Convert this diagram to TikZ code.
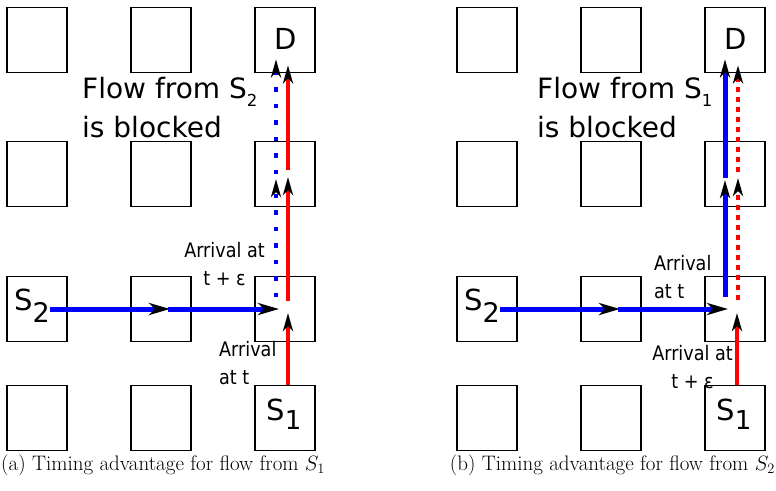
\documentclass[tikz,border=0pt]{standalone}
\usepackage{fontspec}
\usepackage{amsmath}
\newfontfamily\djv{DejaVu Sans}
\newfontfamily\djvc[FakeStretch=0.88]{DejaVu Sans}
\usetikzlibrary{arrows.meta}
\newcommand{\lowsub}[3]{\raisebox{-#1}{\fontsize{#2}{#2}\selectfont #3}}

\begin{document}
\begin{tikzpicture}[x=1pt, y=-1pt,
  cell/.style={draw, line width=1.6pt, minimum width=60pt, minimum height=65pt,
    inner sep=0pt},
  tag/.style={font=\djv\fontsize{29}{29}\selectfont, inner sep=0pt},
  note/.style={font=\djv\fontsize{28}{39}\selectfont, align=left, inner sep=0pt},
  arrtext/.style={font=\djvc\fontsize{20}{28}\selectfont, inner sep=0pt},
  subcap/.style={font=\fontsize{21}{24}\selectfont, inner sep=0pt},
  htip/.style={-{Stealth[color=black, length=21pt, width=12pt, inset=6pt]}},
  vtip/.style={-{Stealth[color=black, length=18pt, width=10pt, inset=5pt]}},
  hflow/.style={blue, line width=5pt, htip},
  bflow/.style={blue, line width=5pt, vtip},
  rflow/.style={red, line width=4.5pt, vtip},
  bdots/.style={bflow, line width=4.5pt, dash pattern=on 4.5pt off 12pt},
  rdots/.style={rflow, dash pattern=on 5pt off 5pt}]
\useasboundingbox (0,0) rectangle (776,490);

% grids of routers
\foreach \r/\y in {1/40,2/174,3/309,4/418}
  \foreach \c/\x in {1/37,2/161,3/285} {
    \node[cell] (a\r\c) at (\x,\y) {};
    \node[cell] (b\r\c) at (\x+450,\y) {};
  }

% (a) flow from S1 wins
\node[tag] (aD) at (286,39) {D};
\node[tag] (aS2) at (32,306) {S\lowsub{12pt}{27}{2}};
\node[tag] (aS1) at (284,414) {S\lowsub{9pt}{26}{1}};
\draw[hflow] ([xshift=13pt]a31.center) -- ([xshift=9pt]a32.center);
\draw[hflow] ([xshift=7pt]a32.center) -- ([xshift=-6pt]a33.center);
\draw[rflow] ([xshift=3pt]a43.north) -- ([xshift=3pt,yshift=-4pt]a33.center);
\draw[rflow] ([xshift=3pt,yshift=8pt]a33.center) -- ([xshift=3pt,yshift=-3pt]a23.center);
\draw[rflow] ([xshift=3pt,yshift=4pt]a23.center) -- ([xshift=3pt,yshift=8pt]a13.south);
\draw[bdots] ([xshift=-9pt,yshift=12pt]a33.center) -- ([xshift=-9pt,yshift=-5pt]a23.center);
\draw[bdots] ([xshift=-9pt]a23.center) -- ([xshift=-9pt,yshift=14pt]a13.south);
\node[note, anchor=base west] (ablk) at (82,137)
  {Flow from S\lowsub{8pt}{16.5}{2}\\is blocked};
\node[arrtext, align=center, anchor=base] (alate) at (224.5,285) {Arrival at\\t + ε};
\node[arrtext, align=left, anchor=base west] (aearly) at (219,384) {Arrival\\at t};
\node[subcap, anchor=base west] (acap) at (1,470)
  {(a) Timing advantage for flow from $S_1$};

% (b) flow from S2 wins
\node[tag] (bD) at (736,39) {D};
\node[tag] (bS2) at (482,306) {S\lowsub{12pt}{27}{2}};
\node[tag] (bS1) at (734,414) {S\lowsub{9pt}{26}{1}};
\draw[hflow] ([xshift=13pt]b31.center) -- ([xshift=9pt]b32.center);
\draw[hflow] ([xshift=7pt]b32.center) -- ([xshift=-7pt]b33.center);
\draw[rflow] ([xshift=2pt]b43.north) -- ([xshift=2pt,yshift=-4pt]b33.center);
\draw[rdots] ([xshift=3pt,yshift=9pt]b33.center) -- ([xshift=3pt,yshift=-4pt]b23.center);
\draw[rdots] ([xshift=3pt,yshift=2pt]b23.center) -- ([xshift=3pt,yshift=8pt]b13.south);
\draw[bflow] ([xshift=-10pt,yshift=12pt]b33.center) -- ([xshift=-10pt,yshift=-6pt]b23.center);
\draw[bflow] ([xshift=-10pt,yshift=-4pt]b23.center) -- ([xshift=-10pt,yshift=14pt]b13.south);
\node[note, anchor=base west] (bblk) at (537,137)
  {Flow from S\lowsub{8pt}{16.5}{1}\\is blocked};
\node[arrtext, align=left, anchor=base west] (bearly) at (654,298) {Arrival\\at t};
\node[arrtext, align=center, anchor=base] (blate) at (692.5,388) {Arrival at\\t + ε};
\node[subcap, anchor=base east] (bcap) at (775,470)
  {(b) Timing advantage for flow from $S_2$};
\end{tikzpicture}
\end{document}
